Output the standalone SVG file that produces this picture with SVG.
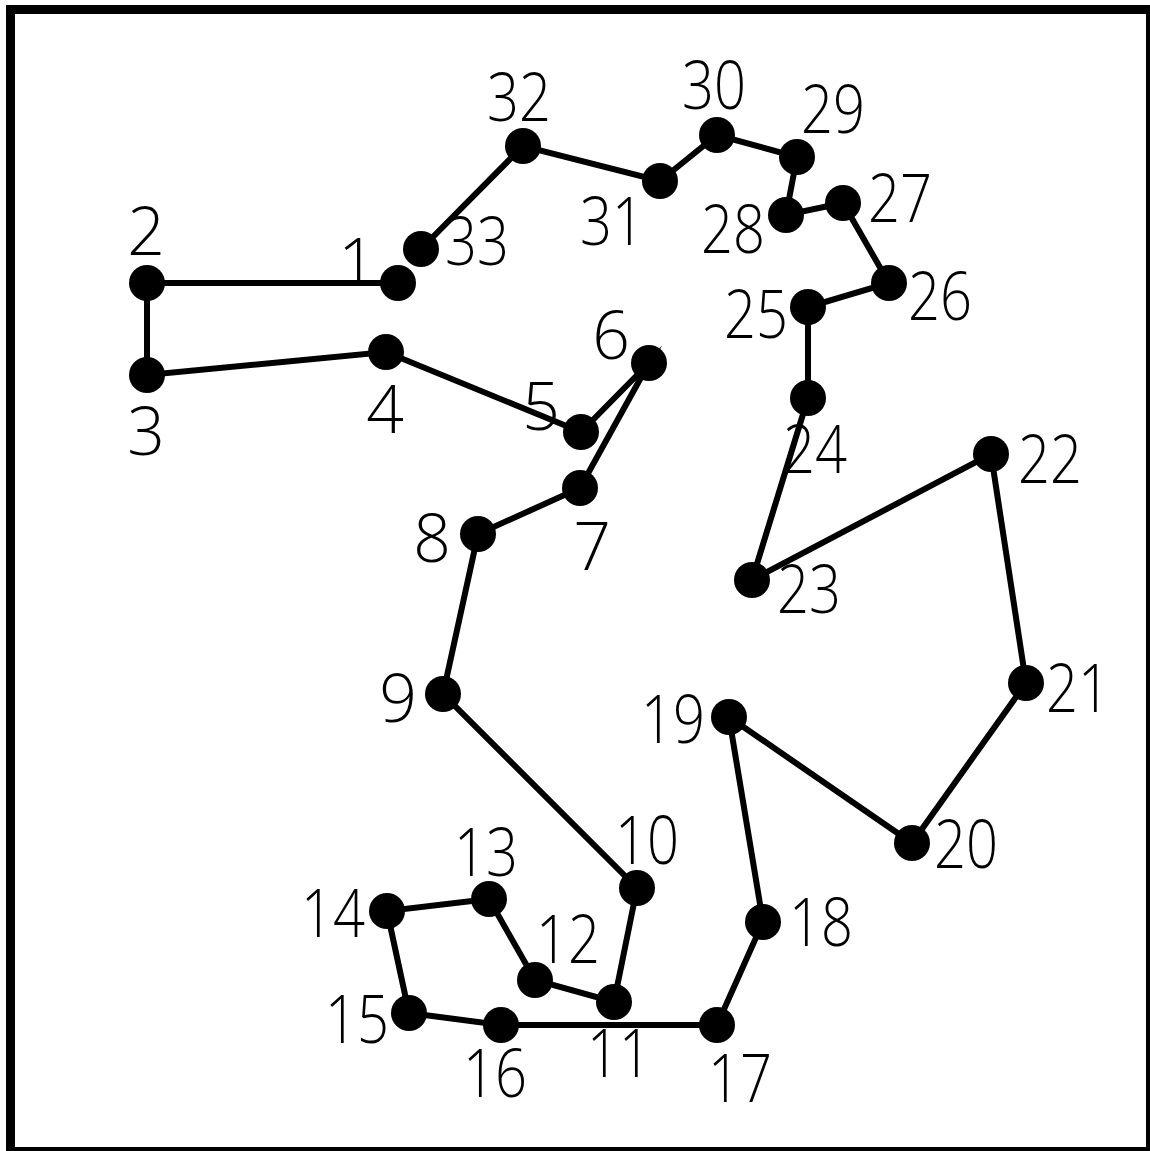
<svg xmlns="http://www.w3.org/2000/svg" width="1150" height="1151" viewBox="0 0 1150 1151">
<style>
.dot{fill:#000}
.lbl{font-family:"Open Sans","Liberation Sans",Arial,sans-serif;font-weight:300;font-size:66px;fill:#000;text-anchor:middle}
.edge{fill:none;stroke:#000;stroke-width:6;stroke-linejoin:miter;stroke-miterlimit:10}
</style>
<rect x="0" y="0" width="1150" height="1151" fill="#fff"/>
<rect id="frame" x="10.5" y="9.5" width="1140" height="1142" fill="none" stroke="#000" stroke-width="9"/>
<g id="connectors">
<polyline class="edge" points="398,283 147,283 147,375 386,352 581,432 649,363 580,488 478,534 443,694 637,888 614,1002 535,980 489,899 387,911 409,1013 501,1025 717,1025 763,922 729,717 912,843 1026,683 991,454 752,580 808,398 808,307 889,283 843,203 786,215 797,157 717,135 660,181 523,146 421,249"/>
</g>
<g id="n1"><circle class="dot" cx="398" cy="283" r="18"/><text class="lbl" x="357" y="286">1</text></g>
<g id="n2"><circle class="dot" cx="147" cy="283" r="18"/><text class="lbl" x="146" y="255">2</text></g>
<g id="n3"><circle class="dot" cx="147" cy="375" r="18"/><text class="lbl" x="146" y="455">3</text></g>
<g id="n4"><circle class="dot" cx="386" cy="352" r="18"/><text class="lbl" x="385" y="433">4</text></g>
<g id="n5"><circle class="dot" cx="581" cy="432" r="18"/><text class="lbl" x="541" y="430">5</text></g>
<g id="n6"><circle class="dot" cx="649" cy="363" r="18"/><text class="lbl" x="611" y="359">6</text></g>
<g id="n7"><circle class="dot" cx="580" cy="488" r="18"/><text class="lbl" x="592" y="570">7</text></g>
<g id="n8"><circle class="dot" cx="478" cy="534" r="18"/><text class="lbl" x="432" y="562">8</text></g>
<g id="n9"><circle class="dot" cx="443" cy="694" r="18"/><text class="lbl" x="398" y="722">9</text></g>
<g id="n10"><circle class="dot" cx="637" cy="888" r="18"/><text class="lbl" x="647" y="864" textLength="64" lengthAdjust="spacingAndGlyphs">10</text></g>
<g id="n11"><circle class="dot" cx="614" cy="1002" r="18"/><text class="lbl" x="619" y="1077" textLength="64" lengthAdjust="spacingAndGlyphs">11</text></g>
<g id="n12"><circle class="dot" cx="535" cy="980" r="18"/><text class="lbl" x="568" y="963" textLength="64" lengthAdjust="spacingAndGlyphs">12</text></g>
<g id="n13"><circle class="dot" cx="489" cy="899" r="18"/><text class="lbl" x="486" y="876" textLength="64" lengthAdjust="spacingAndGlyphs">13</text></g>
<g id="n14"><circle class="dot" cx="387" cy="911" r="18"/><text class="lbl" x="333" y="937" textLength="64" lengthAdjust="spacingAndGlyphs">14</text></g>
<g id="n15"><circle class="dot" cx="409" cy="1013" r="18"/><text class="lbl" x="357" y="1043" textLength="64" lengthAdjust="spacingAndGlyphs">15</text></g>
<g id="n16"><circle class="dot" cx="501" cy="1025" r="18"/><text class="lbl" x="495" y="1097" textLength="64" lengthAdjust="spacingAndGlyphs">16</text></g>
<g id="n17"><circle class="dot" cx="717" cy="1025" r="18"/><text class="lbl" x="740" y="1102" textLength="64" lengthAdjust="spacingAndGlyphs">17</text></g>
<g id="n18"><circle class="dot" cx="763" cy="922" r="18"/><text class="lbl" x="821" y="946" textLength="64" lengthAdjust="spacingAndGlyphs">18</text></g>
<g id="n19"><circle class="dot" cx="729" cy="717" r="18"/><text class="lbl" x="673" y="743" textLength="64" lengthAdjust="spacingAndGlyphs">19</text></g>
<g id="n20"><circle class="dot" cx="912" cy="843" r="18"/><text class="lbl" x="966" y="868" textLength="64" lengthAdjust="spacingAndGlyphs">20</text></g>
<g id="n21"><circle class="dot" cx="1026" cy="683" r="18"/><text class="lbl" x="1078" y="712" textLength="64" lengthAdjust="spacingAndGlyphs">21</text></g>
<g id="n22"><circle class="dot" cx="991" cy="454" r="18"/><text class="lbl" x="1050" y="483" textLength="64" lengthAdjust="spacingAndGlyphs">22</text></g>
<g id="n23"><circle class="dot" cx="752" cy="580" r="18"/><text class="lbl" x="809" y="613" textLength="64" lengthAdjust="spacingAndGlyphs">23</text></g>
<g id="n24"><circle class="dot" cx="808" cy="398" r="18"/><text class="lbl" x="815" y="473" textLength="64" lengthAdjust="spacingAndGlyphs">24</text></g>
<g id="n25"><circle class="dot" cx="808" cy="307" r="18"/><text class="lbl" x="756" y="338" textLength="64" lengthAdjust="spacingAndGlyphs">25</text></g>
<g id="n26"><circle class="dot" cx="889" cy="283" r="18"/><text class="lbl" x="940" y="320" textLength="64" lengthAdjust="spacingAndGlyphs">26</text></g>
<g id="n27"><circle class="dot" cx="843" cy="203" r="18"/><text class="lbl" x="900" y="222" textLength="64" lengthAdjust="spacingAndGlyphs">27</text></g>
<g id="n28"><circle class="dot" cx="786" cy="215" r="18"/><text class="lbl" x="733" y="253" textLength="64" lengthAdjust="spacingAndGlyphs">28</text></g>
<g id="n29"><circle class="dot" cx="797" cy="157" r="18"/><text class="lbl" x="833" y="133" textLength="64" lengthAdjust="spacingAndGlyphs">29</text></g>
<g id="n30"><circle class="dot" cx="717" cy="135" r="18"/><text class="lbl" x="714" y="109" textLength="64" lengthAdjust="spacingAndGlyphs">30</text></g>
<g id="n31"><circle class="dot" cx="660" cy="181" r="18"/><text class="lbl" x="612" y="245" textLength="64" lengthAdjust="spacingAndGlyphs">31</text></g>
<g id="n32"><circle class="dot" cx="523" cy="146" r="18"/><text class="lbl" x="519" y="121" textLength="64" lengthAdjust="spacingAndGlyphs">32</text></g>
<g id="n33"><circle class="dot" cx="421" cy="249" r="18"/><text class="lbl" x="477" y="265" textLength="64" lengthAdjust="spacingAndGlyphs">33</text></g>
</svg>
